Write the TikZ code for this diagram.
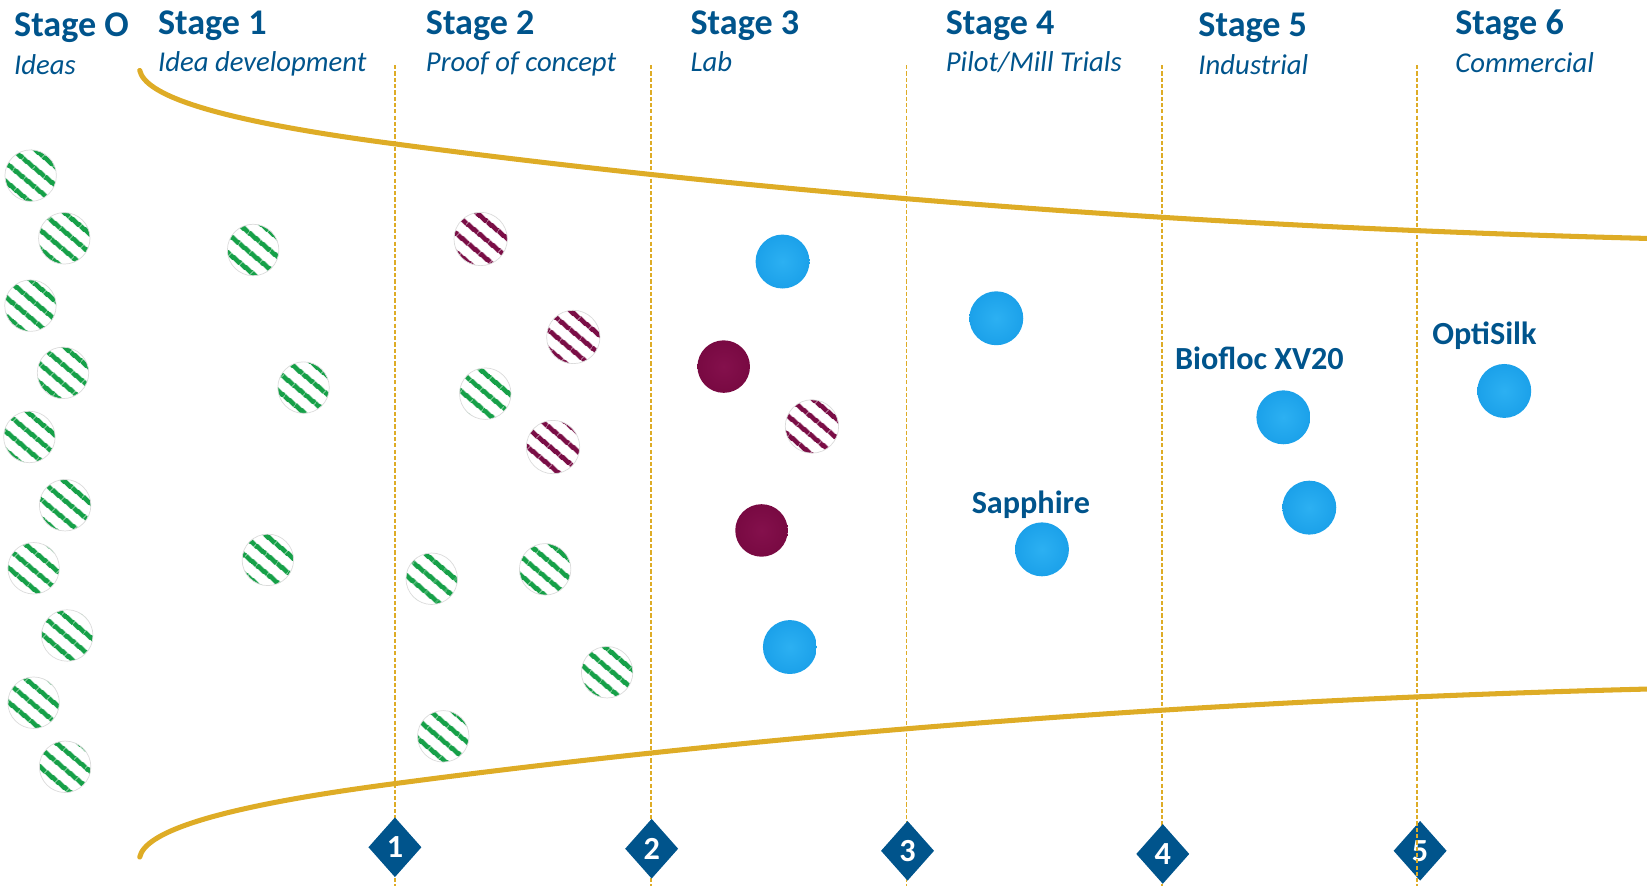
\documentclass[tikz,border=0pt]{standalone}
\usepackage{fontspec}
\setmainfont{Carlito}
\usetikzlibrary{shapes.geometric,patterns.meta}

\definecolor{stageblue}{RGB}{0,84,140}
\definecolor{funnelgold}{RGB}{222,172,38}
\definecolor{ideagreen}{RGB}{22,160,72}
\definecolor{labmaroon}{RGB}{122,14,70}
\definecolor{knobbluein}{RGB}{44,176,242}
\definecolor{knobblue}{RGB}{24,158,232}
\definecolor{knobblueedge}{RGB}{8,112,186}
\definecolor{knobmaroonin}{RGB}{132,16,76}
\definecolor{knobmaroon}{RGB}{118,8,64}
\definecolor{knobmaroonedge}{RGB}{84,2,42}

\pgfdeclareradialshading{blueknob}{\pgfpoint{0bp}{0bp}}{color(0bp)=(knobbluein); color(30bp)=(knobblue); color(43bp)=(knobblue); color(50bp)=(knobblueedge)}
\pgfdeclareradialshading{maroonknob}{\pgfpoint{0bp}{0bp}}{color(0bp)=(knobmaroonin); color(30bp)=(knobmaroon); color(43bp)=(knobmaroon); color(50bp)=(knobmaroonedge)}

\tikzset{every picture/.style={line width=0.75pt}}
\tikzset{
  stagehead/.style={anchor=base west, inner sep=0pt, text=stageblue, font=\fontsize{25.8}{30}\selectfont\bfseries},
  stagesub/.style={anchor=base west, inner sep=0pt, text=stageblue, font=\fontsize{20.5}{24}\selectfont\itshape},
  prodlabel/.style={anchor=base, inner sep=0pt, text=stageblue, font=\fontsize{23}{27}\selectfont\bfseries},
  gateline/.style={draw=funnelgold, line width=1.1pt, dash pattern=on 3pt off 1.5pt},
  gatebox/.style={diamond, fill=stageblue, inner sep=0pt, minimum width=38.1pt, minimum height=42.9pt, text=white, font=\fontsize{23}{26}\selectfont\bfseries},
  funnel/.style={draw=funnelgold, line width=3.6pt, line cap=round},
  greenball/.style={circle, inner sep=0pt, minimum size=36.75pt, preaction={fill=white}, pattern={Lines[angle=-40, distance=10.5pt, line width=3.8pt]}, pattern color=ideagreen, draw=black!14, line width=0.5pt},
  stripeball/.style={circle, inner sep=0pt, minimum size=38.1pt, preaction={fill=white}, pattern={Lines[angle=-40, distance=10.5pt, line width=3.8pt]}, pattern color=labmaroon, draw=black!14, line width=0.5pt},
  maroonball/.style={circle, inner sep=0pt, minimum size=37.5pt, shade, shading=maroonknob},
  blueball/.style={circle, inner sep=0pt, minimum size=38.5pt, shade, shading=blueknob}
}

\begin{document}
\begin{tikzpicture}[x=0.75pt,y=0.75pt,yscale=-1,xscale=1]
	\useasboundingbox (0,0) rectangle (1568,843.5);

	%Straight Lines (stage gates)
	\foreach \n/\x in {1/376,2/620,3/863,4/1106,5/1349} {
		\coordinate (gt\n) at (\x,62);
		\coordinate (gb\n) at (\x,843.5);
		\draw [gateline] (gt\n) -- (gb\n);
	}

	%Curve Lines (funnel)
	\draw [funnel] (133,67) .. controls (138,90) and (200,114) .. (376,137) .. controls (700,180) and (1100,215) .. (1568,227);
	\draw [funnel] (133,816) .. controls (138,793) and (200,769) .. (376,746) .. controls (700,703) and (1100,668) .. (1568,656);

	%Shape: Diamond (gates)
	\node [gatebox] (g1) at (376,806.6) {1};
	\node [gatebox] (g2) at (620.4,808) {2};
	\node [gatebox] (g3) at (864,810) {3};
	\node [gatebox] (g4) at (1107,813) {4};
	\node [gatebox] (g5) at (1352,810) {5};
	\draw [gateline] (gt5) -- (gb5);

	%Shape: Circle (ideas)
	\foreach \n/\x/\y in {1/29.2/167.2, 2/61.2/226.9, 3/29/291, 4/60/355, 5/28/416, 6/62/481, 7/32/541, 8/64/605, 9/32/669, 10/62/730, 11/241/238, 12/289/369, 13/255/533, 14/462/374.8, 15/411/551, 16/519/542, 17/578/640, 18/422/701}
		\node [greenball] (idea\n) at (\x,\y) {};
	\foreach \n/\x/\y in {1/457.6/227.5, 2/545.8/320.8, 3/526.5/425.6, 4/773/406}
		\node [stripeball] (proof\n) at (\x,\y) {};
	\foreach \n/\x/\y in {1/689/349, 2/725/505}
		\node [maroonball] (lab\n) at (\x,\y) {};
	\foreach \n/\x/\y in {1/745/249, 2/752/616, 3/948.5/303, 4/992/523, 5/1221.8/397.3, 6/1246.5/483.3, 7/1432.1/372.2}
		\node [blueball] (prod\n) at (\x,\y) {};

	% Text Node
	\node [stagehead] (s0) at (13,34.9) {Stage O};
	\node [stagesub] (d0) at (13,71.4) {Ideas};
	\node [stagehead] (s1) at (150,33.3) {Stage 1};
	\node [stagesub] (d1) at (150,68.5) {Idea development};
	\node [stagehead] (s2) at (405,33.3) {Stage 2};
	\node [stagesub] (d2) at (405,68.5) {Proof of concept};
	\node [stagehead] (s3) at (657,33.3) {Stage 3};
	\node [stagesub] (d3) at (657,68.5) {Lab};
	\node [stagehead] (s4) at (900,33.3) {Stage 4};
	\node [stagesub] (d4) at (900,68.5) {Pilot/Mill Trials};
	\node [stagehead] (s5) at (1140.5,34.9) {Stage 5};
	\node [stagesub] (d5) at (1140.5,70.5) {Industrial};
	\node [stagehead] (s6) at (1385,32.7) {Stage 6};
	\node [stagesub] (d6) at (1385,68.9) {Commercial};

	% Text Node
	\node [prodlabel] (sapphire) at (981.4,488.7) {Sapphire};
	\node [prodlabel] (biofloc) at (1199,352.2) {Biofloc XV20};
	\node [prodlabel] (optisilk) at (1413.2,328.4) {OptiSilk};

\end{tikzpicture}
\end{document}
